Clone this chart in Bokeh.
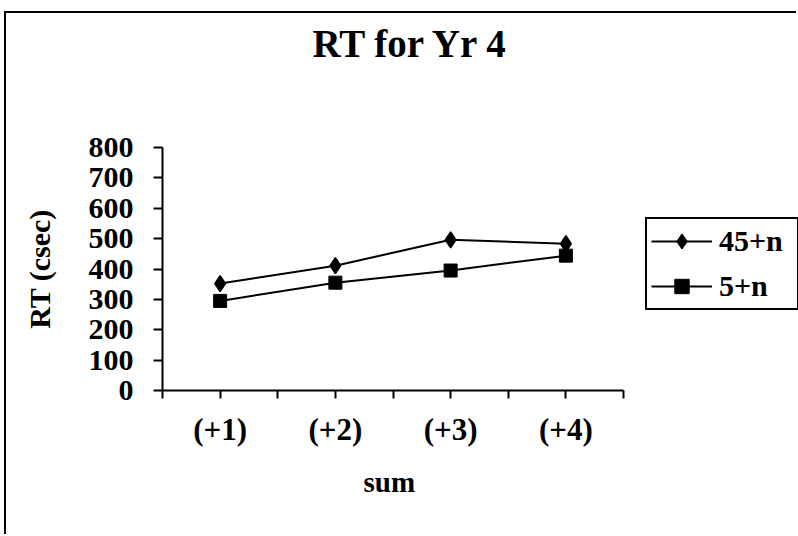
from bokeh.plotting import figure
from bokeh.models import (Range1d, FixedTicker, SingleIntervalTicker, Legend, LegendItem,
                          LinearAxis, Title)
from bokeh.embed import file_html
from bokeh.resources import INLINE

# ---- data ----
categories = ["(+1)", "(+2)", "(+3)", "(+4)"]
series_45n = [352, 411, 496, 483]
series_5n = [295, 355, 395, 444]
series_names = ["45+n", "5+n"]
title_text = "RT for Yr 4"
x_label = "sum"
y_label = "RT (csec)"

FONT = "Liberation Serif"

xs = [i + 1 for i in range(len(categories))]
n = len(categories)
# frame extends to the right edge so the legend (drawn inside the frame) is not clipped;
# the x-axis itself is bounded to the categories
x_end = 0.5 + n * 636.0 / 461.0

p = figure(width=792, height=523, output_backend="svg", toolbar_location=None,
           x_range=Range1d(0.5, x_end), y_range=Range1d(0, 800),
           min_border_left=156, min_border_top=134, min_border_bottom=146,
           min_border_right=0)
p.margin = (11, 0, 0, 4)
p.styles = {"border-left": "2px solid black", "border-top": "2px solid black"}

p.background_fill_color = "white"
p.border_fill_color = "white"
p.outline_line_color = None
p.xgrid.visible = False
p.ygrid.visible = False

xax = p.below[0]
yax = p.left[0]


def spacer_axis(extent):
    a = LinearAxis(ticker=FixedTicker(ticks=[0.5]))
    a.axis_line_color = None
    a.major_tick_line_color = None
    a.minor_tick_line_color = None
    a.major_tick_in = 0
    a.major_tick_out = extent
    a.major_label_standoff = 0
    a.major_label_overrides = {0.5: ""}
    a.major_label_text_font_size = "1px"
    return a


# invisible spacer pushing the title up
p.add_layout(spacer_axis(78), "above")

# title
p.title.text = title_text
p.title.align = "left"
p.title.offset = 150
p.title.standoff = 10
p.title.text_color = "black"
p.title.text_font = FONT
p.title.text_font_style = "bold"
p.title.text_font_size = "39px"

# axes
for ax in (xax, yax):
    ax.axis_line_width = 2
    ax.axis_line_color = "black"
    ax.major_tick_line_width = 2
    ax.major_tick_line_color = "black"
    ax.minor_tick_line_color = None
    ax.major_tick_in = 0
    ax.major_label_text_font = FONT
    ax.major_label_text_font_style = "bold"
    ax.major_label_text_font_size = "30px"
    ax.major_label_text_color = "black"
    ax.axis_label_text_font = FONT
    ax.axis_label_text_font_style = "bold"
    ax.axis_label_text_font_size = "30px"
    ax.axis_label_text_color = "black"

tick_pos = [0.5 + 0.5 * i for i in range(2 * n + 1)]
xax.ticker = FixedTicker(ticks=tick_pos)
xax.bounds = (0.5, n + 0.5)
overrides = {t: "" for t in tick_pos}
for x, c in zip(xs, categories):
    overrides[x] = c
xax.major_label_overrides = overrides
xax.major_label_text_font_size = "31px"
xax.major_tick_out = 8
xax.major_label_standoff = 13

# x-axis title, positioned under the category axis (not the widened frame)
x_title = Title(text=x_label, align="left", offset=201, standoff=28,
                text_font=FONT, text_font_style="bold", text_font_size="29px",
                text_color="black")
p.add_layout(x_title, "below")

yax.ticker = SingleIntervalTicker(interval=100)
yax.major_tick_out = 9
yax.major_label_standoff = 20
yax.axis_label = y_label
yax.axis_label_standoff = 30

# series
l1 = p.line(xs, series_45n, line_color="black", line_width=2)
m1 = p.scatter(xs, series_45n, marker="diamond", size=16,
               fill_color="black", line_color="black", line_width=1.5)
l2 = p.line(xs, series_5n, line_color="black", line_width=2)
m2 = p.scatter(xs, series_5n, marker="square", size=13,
               fill_color="black", line_color="black")

legend = Legend(items=[LegendItem(label=series_names[0], renderers=[l1, m1]),
                       LegendItem(label=series_names[1], renderers=[l2, m2])],
                location=(483, 80))
legend.border_line_color = "black"
legend.border_line_alpha = 1.0
legend.border_line_width = 2
legend.background_fill_color = "white"
legend.background_fill_alpha = 1.0
legend.label_text_font = FONT
legend.label_text_font_style = "bold"
legend.label_text_font_size = "30px"
legend.label_text_color = "black"
legend.glyph_width = 61
legend.glyph_height = 36
legend.label_height = 36
legend.label_width = 74
legend.label_standoff = 7
legend.padding = 4
legend.spacing = 9
legend.margin = 0
p.add_layout(legend, "center")

open("out.html", "w").write(file_html(p, INLINE))
